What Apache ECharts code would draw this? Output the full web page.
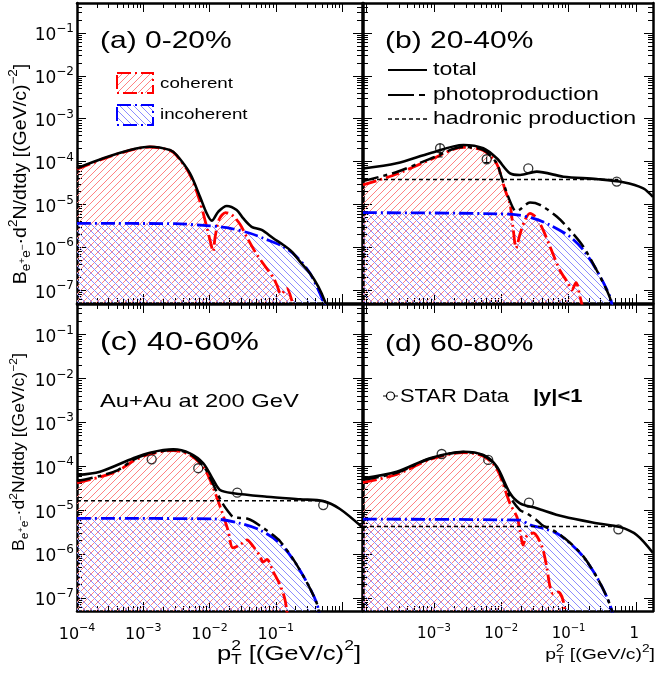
<!DOCTYPE html>
<html><head><meta charset="utf-8">
<script src="https://cdn.jsdelivr.net/npm/echarts@6/dist/echarts.min.js"></script>
<style>html,body{margin:0;padding:0;background:#fff;overflow:hidden}#c{width:659px;height:676px}</style>
</head><body><div id="c"></div>
<script>
// ---------------- data ----------------
const xRangeLeft = [1e-4, 2];
const xRangeRight = [8.8e-5, 1.8];
const yRange = [5e-8, 0.5];
const xLabelsC = [1e-4, 1e-3, 1e-2, 1e-1];
const xLabelsD = [1e-3, 1e-2, 1e-1, 1];
const yLabels = [1e-7, 1e-6, 1e-5, 1e-4, 1e-3, 1e-2, 1e-1];

// (a) 0-20%
const aTotal = [[1e-4,6.95e-5],[2.49e-4,1.19e-4],[6.3e-4,1.86e-4],[1.26e-3,2.22e-4],[2.53e-3,1.86e-4],[3.19e-3,1.42e-4],[5.07e-3,5.3e-5],[7.18e-3,1.51e-5],[9.06e-3,6.2e-6],[1.08e-2,4.17e-6],[1.36e-2,6.8e-6],[1.82e-2,9.2e-6],[2.57e-2,7.4e-6],[3.23e-2,4.7e-6],[4.32e-2,3.0e-6],[6.12e-2,2.53e-6],[9.16e-2,1.62e-6],[0.13,1.13e-6],[0.174,7.9e-7],[0.232,4.6e-7],[0.328,2.47e-7],[0.438,1.2e-7],[0.552,5.4e-8],[0.65,2.5e-8]];
const aCoh = [[1e-4,6.6e-5],[2.49e-4,1.15e-4],[6.3e-4,1.82e-4],[1.26e-3,2.18e-4],[2.53e-3,1.82e-4],[3.19e-3,1.38e-4],[5.07e-3,4.9e-5],[7.18e-3,1.15e-5],[9.06e-3,3.0e-6],[1.05e-2,1.2e-6],[1.13e-2,8e-7],[1.22e-2,1.8e-6],[1.4e-2,4.5e-6],[1.75e-2,6.4e-6],[2.2e-2,5.6e-6],[2.9e-2,3.4e-6],[3.6e-2,1.8e-6],[5.1e-2,7e-7],[7.3e-2,3.2e-7],[9.1e-2,2.0e-7],[0.104,1.3e-7],[0.12,8e-8],[0.146,1.1e-7],[0.176,5.4e-8],[0.2,2e-8]];
const aInc = [[1e-4,3.6e-6],[3e-3,3.55e-6],[9e-3,3.2e-6],[1.82e-2,2.86e-6],[4.08e-2,2.12e-6],[6.47e-2,1.62e-6],[0.13,1.03e-6],[0.206,6.0e-7],[0.328,2.47e-7],[0.521,5.4e-8],[0.6,2.5e-8]];

// (b) 20-40%
const bTotal = [[8.8e-5,6.9e-5],[2.79e-4,9.1e-5],[8.7e-4,1.56e-4],[2.73e-3,2.43e-4],[5.4e-3,2.04e-4],[8.56e-3,1.19e-4],[1.35e-2,5.3e-5],[1.9e-2,4.86e-5],[3.36e-2,5.8e-5],[8.4e-2,4.43e-5],[0.262,3.9e-5],[0.652,3.3e-5],[1.29,2.37e-5],[1.8,1.49e-5]];
const bPhoto = [[8.8e-5,3.5e-5],[2.79e-4,5.7e-5],[8.7e-4,1.15e-4],[2.73e-3,2.18e-4],[5.4e-3,1.86e-4],[8.56e-3,9.2e-5],[9.6e-3,5.5e-5],[1.2e-2,1.9e-5],[1.51e-2,8e-6],[1.66e-2,6.9e-6],[1.9e-2,7.6e-6],[2.67e-2,1.1e-5],[3.76e-2,9.7e-6],[6.67e-2,5.2e-6],[0.105,2.5e-6],[0.166,1.03e-6],[0.262,2.9e-7],[0.369,1.0e-7],[0.438,5e-8],[0.5,2e-8]];
const bHad = [[8.8e-5,3.8e-5],[0.55,3.8e-5]];
const bCoh = [[8.8e-5,2.84e-5],[2.79e-4,5.1e-5],[8.7e-4,1.09e-4],[2.73e-3,2.14e-4],[5.4e-3,1.82e-4],[8.56e-3,8.8e-5],[1.14e-2,2.17e-5],[1.35e-2,1.0e-5],[1.51e-2,2.5e-6],[1.66e-2,9.6e-7],[1.9e-2,2.04e-6],[2.25e-2,4.3e-6],[2.67e-2,6.2e-6],[3.36e-2,4.8e-6],[4.2e-2,2.5e-6],[5.3e-2,1.03e-6],[7.45e-2,2.9e-7],[9.8e-2,1.47e-7],[0.112,1.0e-7],[0.129,1.5e-7],[0.148,7e-8],[0.17,3e-8]];
const bInc = [[8.8e-5,6.4e-6],[1.35e-2,5.9e-6],[2.99e-2,4.74e-6],[5.3e-2,3.3e-6],[0.105,1.76e-6],[0.166,8.6e-7],[0.262,2.9e-7],[0.413,7e-8],[0.46,3e-8]];
const bStar = [[1.23e-3,2.04e-4],[6.07e-3,1.13e-4],[2.52e-2,6.95e-5],[0.52,3.4e-5]];
const bStarErr = [[1.23e-3,1.28e-4,2.6e-4],[6.07e-3,9.5e-5,1.3e-4]];

// (c) 40-60%
const cTotal = [[1e-4,6.3e-5],[2.22e-4,7.5e-5],[7.08e-4,1.52e-4],[1.26e-3,2.04e-4],[2.84e-3,2.43e-4],[5.07e-3,1.97e-4],[8.05e-3,1.17e-4],[1.14e-2,4.85e-5],[1.44e-2,2.87e-5],[2.29e-2,2.42e-5],[7.3e-2,2.02e-5],[0.232,1.76e-5],[0.521,1.6e-5],[0.93,1.06e-5],[2.0,4.1e-6]];
const cPhoto = [[1e-4,4.6e-5],[2.22e-4,6.0e-5],[4.15e-4,8.2e-5],[7.08e-4,1.39e-4],[1.26e-3,1.95e-4],[2.84e-3,2.34e-4],[5.07e-3,1.9e-4],[8.05e-3,1.01e-4],[1.02e-2,5.5e-5],[1.28e-2,2.6e-5],[1.54e-2,1.5e-5],[1.9e-2,9.4e-6],[2.26e-2,7.0e-6],[2.88e-2,6.6e-6],[3.67e-2,6.4e-6],[4.53e-2,5.6e-6],[5.77e-2,4.4e-6],[9.08e-2,2.7e-6],[0.116,1.95e-6],[0.184,7.5e-7],[0.292,2.3e-7],[0.414,7.6e-8],[0.465,3.5e-8]];
const cHad = [[1e-4,1.64e-5],[0.5,1.64e-5]];
const cCoh = [[1e-4,4.15e-5],[2.22e-4,5.7e-5],[4.15e-4,7.8e-5],[7.08e-4,1.32e-4],[1.26e-3,1.9e-4],[2.84e-3,2.28e-4],[5.07e-3,1.8e-4],[8.05e-3,9.6e-5],[1.02e-2,4.85e-5],[1.28e-2,2.0e-5],[1.54e-2,9.1e-6],[1.9e-2,3.5e-6],[2.26e-2,1.37e-6],[2.88e-2,1.6e-6],[3.67e-2,2.1e-6],[4.53e-2,1.5e-6],[5.77e-2,9e-7],[6.41e-2,6.5e-7],[7.36e-2,7.5e-7],[9.08e-2,4e-7],[0.116,1.96e-7],[0.138,8.9e-8],[0.153,3e-8]];
const cInc = [[1e-4,6.5e-6],[1.13e-2,6.3e-6],[2.88e-2,5.0e-6],[5.77e-2,3.5e-6],[0.116,1.75e-6],[0.184,7.3e-7],[0.292,2.3e-7],[0.414,7.6e-8],[0.465,3.5e-8]];
const cStar = [[1.34e-3,1.44e-4],[6.76e-3,9.0e-5],[2.62e-2,2.5e-5],[0.52,1.3e-5]];

// (d) 60-80%
const dTotal = [[8.8e-5,5.3e-5],[2.79e-4,7.5e-5],[8.7e-4,1.52e-4],[2.73e-3,2.14e-4],[5.4e-3,1.8e-4],[8.56e-3,9.8e-5],[1.35e-2,2.42e-5],[1.9e-2,1.43e-5],[3.36e-2,1.1e-5],[8.4e-2,7.1e-6],[0.262,5.0e-6],[0.58,4.1e-6],[1.03,2.7e-6],[1.8,1.05e-6]];
const dPhoto = [[8.8e-5,4.88e-5],[2.79e-4,7.1e-5],[8.7e-4,1.48e-4],[2.73e-3,2.1e-4],[5.4e-3,1.76e-4],[8.56e-3,9.4e-5],[1.35e-2,2.0e-5],[1.9e-2,1.0e-5],[2.39e-2,8.4e-6],[3.36e-2,5.9e-6],[4.2e-2,4.4e-6],[6.67e-2,3.1e-6],[0.105,1.8e-6],[0.166,8.8e-7],[0.262,3.0e-7],[0.369,1.06e-7],[0.438,5.2e-8],[0.48,2.5e-8]];
const dHad = [[8.8e-5,4.2e-6],[0.55,4.2e-6]];
const dCoh = [[8.8e-5,4.26e-5],[2.79e-4,6.5e-5],[8.7e-4,1.42e-4],[2.73e-3,2.04e-4],[5.4e-3,1.7e-4],[8.56e-3,8.8e-5],[1.35e-2,1.4e-5],[1.7e-2,7.1e-6],[1.9e-2,3.5e-6],[2.1e-2,1.6e-6],[2.4e-2,2.6e-6],[3.0e-2,3.0e-6],[3.7e-2,2.0e-6],[4.2e-2,1.2e-6],[4.73e-2,5.1e-7],[5.3e-2,1.8e-7],[5.87e-2,1.25e-7],[6.97e-2,1.36e-7],[8.27e-2,8.9e-8],[9.2e-2,3e-8]];
const dInc = [[8.8e-5,6.2e-6],[1.9e-2,5.9e-6],[2.67e-2,4.6e-6],[4.2e-2,3.8e-6],[6.67e-2,2.96e-6],[0.105,1.75e-6],[0.166,8.6e-7],[0.262,3.0e-7],[0.369,1.06e-7],[0.438,5.2e-8],[0.48,2.5e-8]];
const dStar = [[1.3e-3,1.9e-4],[6.4e-3,1.39e-4],[2.58e-2,1.48e-5],[0.55,3.65e-6]];

// ---------------- styling helpers ----------------
const FONT = "'Liberation Sans', Arial, Helvetica, sans-serif";
const TFONT = "'DejaVu Sans', sans-serif";
const SX = 1.25;

function hatchCanvas(r, g, b, dir) {
  const n = 7, c = document.createElement('canvas');
  c.width = n; c.height = n;
  const ctx = c.getContext('2d');
  const img = ctx.createImageData(n, n);
  for (let y = 0; y < n; y++) {
    const x = dir > 0 ? (n - 1 - y) : y;
    const i = (y * n + x) * 4;
    img.data[i] = r; img.data[i + 1] = g; img.data[i + 2] = b; img.data[i + 3] = 255;
  }
  ctx.putImageData(img, 0, 0);
  return c;
}
function redHatch() { return { image: hatchCanvas(255, 130, 130, 1), repeat: 'repeat' }; }
function blueHatch() { return { image: hatchCanvas(140, 140, 255, -1), repeat: 'repeat' }; }

function tickValues(range, major) {
  const out = [];
  const e0 = Math.floor(Math.log10(range[0])), e1 = Math.ceil(Math.log10(range[1]));
  for (let e = e0; e <= e1; e++) {
    const ks = major ? [1] : [2,3,4,5,6,7,8,9];
    for (const k of ks) {
      const v = k * Math.pow(10, e);
      if (v >= range[0] * 0.9999 && v <= range[1] * 1.0001) out.push(v);
    }
  }
  return out;
}

function labelCfg(isX, vals, size) {
  const sup = Math.round(size * 0.68);
  return {
    show: true, customValues: vals, margin: isX ? 12 : 3, color: '#000',
    fontFamily: TFONT, fontSize: size, padding: isX ? 0 : [6, 0, 0, 0],
    formatter: function (v) {
      const e = Math.round(Math.log10(v));
      return e === 0 ? '{b|1}{s| }' : '{b|10}{s|\u2212' + Math.abs(e) + '}';
    },
    rich: {
      b: { fontSize: size, fontFamily: TFONT, color: '#000' },
      s: { fontSize: sup, fontFamily: TFONT, color: '#000', padding: [0, 0, Math.round(size * 0.8), 0] }
    }
  };
}

function axisSet(dim, gi, range, labelVals, labelSize) {
  const isX = dim === 'x';
  const pos = isX ? ['bottom', 'top'] : ['left', 'right'];
  const out = [];
  const tickStyle = { color: '#000', width: 1 };
  pos.forEach(function (p, i) {
    const common = { type: 'log', logBase: 10, gridIndex: gi, min: range[0], max: range[1], position: p,
      splitLine: { show: false }, splitArea: { show: false } };
    out.push(Object.assign({}, common, {
      axisLine: { show: true, onZero: false, lineStyle: { color: '#000', width: 2.5 } },
      axisTick: { show: true, inside: true, length: 9, customValues: tickValues(range, true), lineStyle: tickStyle },
      axisLabel: (i === 0 && labelVals) ? labelCfg(isX, labelVals, labelSize) : { show: false }
    }));
    out.push(Object.assign({}, common, {
      axisLine: { show: false, onZero: false },
      axisTick: { show: true, inside: true, length: 5, customValues: tickValues(range, false), lineStyle: tickStyle },
      axisLabel: { show: false }
    }));
  });
  return out;
}

const panels = [
  { grid: { left: 77, top: 3, width: 285, height: 300 }, xr: xRangeLeft, coh: aCoh, inc: aInc, tot: aTotal, photo: null, had: null, star: null, err: null, xl: null, xs: 0, yl: true },
  { grid: { left: 363, top: 3, width: 290, height: 300 }, xr: xRangeRight, coh: bCoh, inc: bInc, tot: bTotal, photo: bPhoto, had: bHad, star: bStar, err: bStarErr, xl: null, xs: 0, yl: false },
  { grid: { left: 77, top: 304, width: 285, height: 307 }, xr: xRangeLeft, coh: cCoh, inc: cInc, tot: cTotal, photo: cPhoto, had: cHad, star: cStar, err: null, xl: xLabelsC, xs: 16, yl: true },
  { grid: { left: 363, top: 304, width: 290, height: 307 }, xr: xRangeRight, coh: dCoh, inc: dInc, tot: dTotal, photo: dPhoto, had: dHad, star: dStar, err: null, xl: xLabelsD, xs: 15, yl: false }
];

const grids = [], xAxes = [], yAxes = [], series = [];
panels.forEach(function (p, gi) {
  grids.push(Object.assign({ outerBoundsMode: 'none', containLabel: false }, p.grid));
  xAxes.push.apply(xAxes, axisSet('x', gi, p.xr, p.xl, p.xs));
  yAxes.push.apply(yAxes, axisSet('y', gi, yRange, p.yl ? yLabels : null, 17));
  const base = { type: 'line', xAxisIndex: 4 * gi, yAxisIndex: 4 * gi, symbol: 'none', smooth: 0.3, clip: true, silent: true };
  series.push(Object.assign({}, base, { name: 'coherent', data: p.coh, z: 2,
    lineStyle: { color: '#ff0000', width: 2.8, type: [14, 4, 2, 4] },
    areaStyle: { color: redHatch(), origin: 'start', opacity: 1 } }));
  series.push(Object.assign({}, base, { name: 'incoherent', data: p.inc, z: 2,
    lineStyle: { color: '#0000ff', width: 2.8, type: [14, 4, 2, 4] },
    areaStyle: { color: blueHatch(), origin: 'start', opacity: 1 } }));
  if (p.had) series.push(Object.assign({}, base, { name: 'hadronic production', data: p.had, smooth: false, z: 4,
    lineStyle: { color: '#000', width: 1.5, type: [4, 3] } }));
  if (p.photo) series.push(Object.assign({}, base, { name: 'photoproduction', data: p.photo, z: 4,
    lineStyle: { color: '#000', width: 2.5, type: [16, 5, 4, 5] } }));
  series.push(Object.assign({}, base, { name: 'total', data: p.tot, z: 5,
    lineStyle: { color: '#000', width: 2.6 } }));
  if (p.star) series.push({ type: 'scatter', name: 'STAR Data', xAxisIndex: 4 * gi, yAxisIndex: 4 * gi, data: p.star,
    symbol: 'circle', symbolSize: 9, z: 7, silent: true,
    itemStyle: { color: 'rgba(255,255,255,0)', borderColor: '#000', borderWidth: 1.3 } });
  if (p.err) series.push({ type: 'custom', xAxisIndex: 4 * gi, yAxisIndex: 4 * gi, data: p.err, z: 6, silent: true,
    encode: { x: 0, y: [1, 2] },
    renderItem: function (params, api) {
      const x = api.value(0);
      const a = api.coord([x, api.value(1)]), b = api.coord([x, api.value(2)]);
      return { type: 'group', children: [
        { type: 'line', shape: { x1: a[0], y1: a[1], x2: b[0], y2: b[1] }, style: { stroke: '#000', lineWidth: 1 } },
        { type: 'line', shape: { x1: a[0] - 2.5, y1: a[1], x2: a[0] + 2.5, y2: a[1] }, style: { stroke: '#000', lineWidth: 1 } }
      ] };
    } });
});

// ---------------- text & legend decorations ----------------
function txt(x, y, text, size, extra, rich) {
  const style = Object.assign({ text: text, fontSize: size, fontFamily: FONT, fill: '#000', verticalAlign: 'middle', align: 'left' }, extra || {});
  if (rich) style.rich = rich;
  return { type: 'text', x: x, y: y, scaleX: SX, z: 100, silent: true, style: style };
}
function richSet(F) {
  const t = function (o) { return Object.assign({ fontFamily: FONT, fill: '#000' }, o); };
  const s = Math.round(F * 0.68);
  return {
    n: t({ fontSize: F }),
    sp: t({ fontSize: s, padding: [0, 0, Math.round(F * 0.8), 0] }),
    sb: t({ fontSize: s, padding: [Math.round(F * 0.6), 0, 0, 0] }),
    sbT: t({ fontSize: s, padding: [Math.round(F * 0.6), 0, 0, -Math.round(s * 0.556)] }),
    ss: t({ fontSize: Math.round(F * 0.5), padding: [Math.round(F * 0.15), 0, 0, 0] })
  };
}
const yTitle = '{n|B}{sb|e}{ss|+}{sb|e}{ss|\u2212}{n|\u00b7d}{sp|2}{n|N/dtdy [(GeV/c)}{sp|\u22122}{n|]}';
const xTitle = '{n|p}{sp|2}{sbT|T}{n| [(GeV/c)}{sp|2}{n|]}';

const graphics = [
  txt(100, 41, '(a) 0-20%', 24),
  txt(385, 41, '(b) 20-40%', 24),
  txt(100, 343, '(c) 40-60%', 26),
  txt(385, 344, '(d) 60-80%', 24),
  txt(160, 84, 'coherent', 15),
  txt(160, 115, 'incoherent', 15),
  txt(433, 70, 'total', 18.5),
  txt(433, 95, 'photoproduction', 18.5),
  txt(433, 119, 'hadronic production', 18.5),
  txt(100, 402, 'Au+Au at 200 GeV', 19),
  txt(400, 397, 'STAR Data', 17.5),
  txt(533, 397, '|y|<1', 17.5, { fontWeight: 'bold' }),
  Object.assign(txt(21, 174, yTitle, 17.5, { align: 'center' }, richSet(17.5)), { rotation: Math.PI / 2, scaleX: 1.12 }),
  Object.assign(txt(20, 452, yTitle, 16, { align: 'center' }, richSet(16)), { rotation: Math.PI / 2, scaleX: 1.1 }),
  txt(361, 654, xTitle, 20.5, { align: 'right' }, richSet(20.5)),
  txt(655, 655, xTitle, 15.5, { align: 'right' }, richSet(15.5)),
  { type: 'rect', z: 100, silent: true, shape: { x: 117, y: 73, width: 36, height: 20 },
    style: { fill: redHatch(), stroke: '#ff0000', lineWidth: 2, lineDash: [14, 4, 2, 4] } },
  { type: 'rect', z: 100, silent: true, shape: { x: 117, y: 105, width: 36, height: 20 },
    style: { fill: blueHatch(), stroke: '#0000ff', lineWidth: 2, lineDash: [14, 4, 2, 4] } },
  { type: 'line', z: 100, silent: true, shape: { x1: 388, y1: 70, x2: 427, y2: 70 }, style: { stroke: '#000', lineWidth: 2 } },
  { type: 'line', z: 100, silent: true, shape: { x1: 388, y1: 95, x2: 427, y2: 95 }, style: { stroke: '#000', lineWidth: 2, lineDash: [26, 5, 6, 100] } },
  { type: 'line', z: 100, silent: true, shape: { x1: 388, y1: 119, x2: 427, y2: 119 }, style: { stroke: '#000', lineWidth: 1.5, lineDash: [4, 3] } },
  { type: 'line', z: 100, silent: true, shape: { x1: 383, y1: 396, x2: 398, y2: 396 }, style: { stroke: '#000', lineWidth: 1 } },
  { type: 'circle', z: 101, silent: true, shape: { cx: 390.5, cy: 396, r: 4 }, style: { stroke: '#000', fill: '#fff', lineWidth: 1.2 } }
];

const chart = echarts.init(document.getElementById('c'), null, { renderer: 'canvas' });
chart.setOption({
  animation: false,
  backgroundColor: '#fff',
  textStyle: { fontFamily: FONT },
  grid: grids,
  xAxis: xAxes,
  yAxis: yAxes,
  series: series,
  graphic: graphics
});
</script></body></html>
